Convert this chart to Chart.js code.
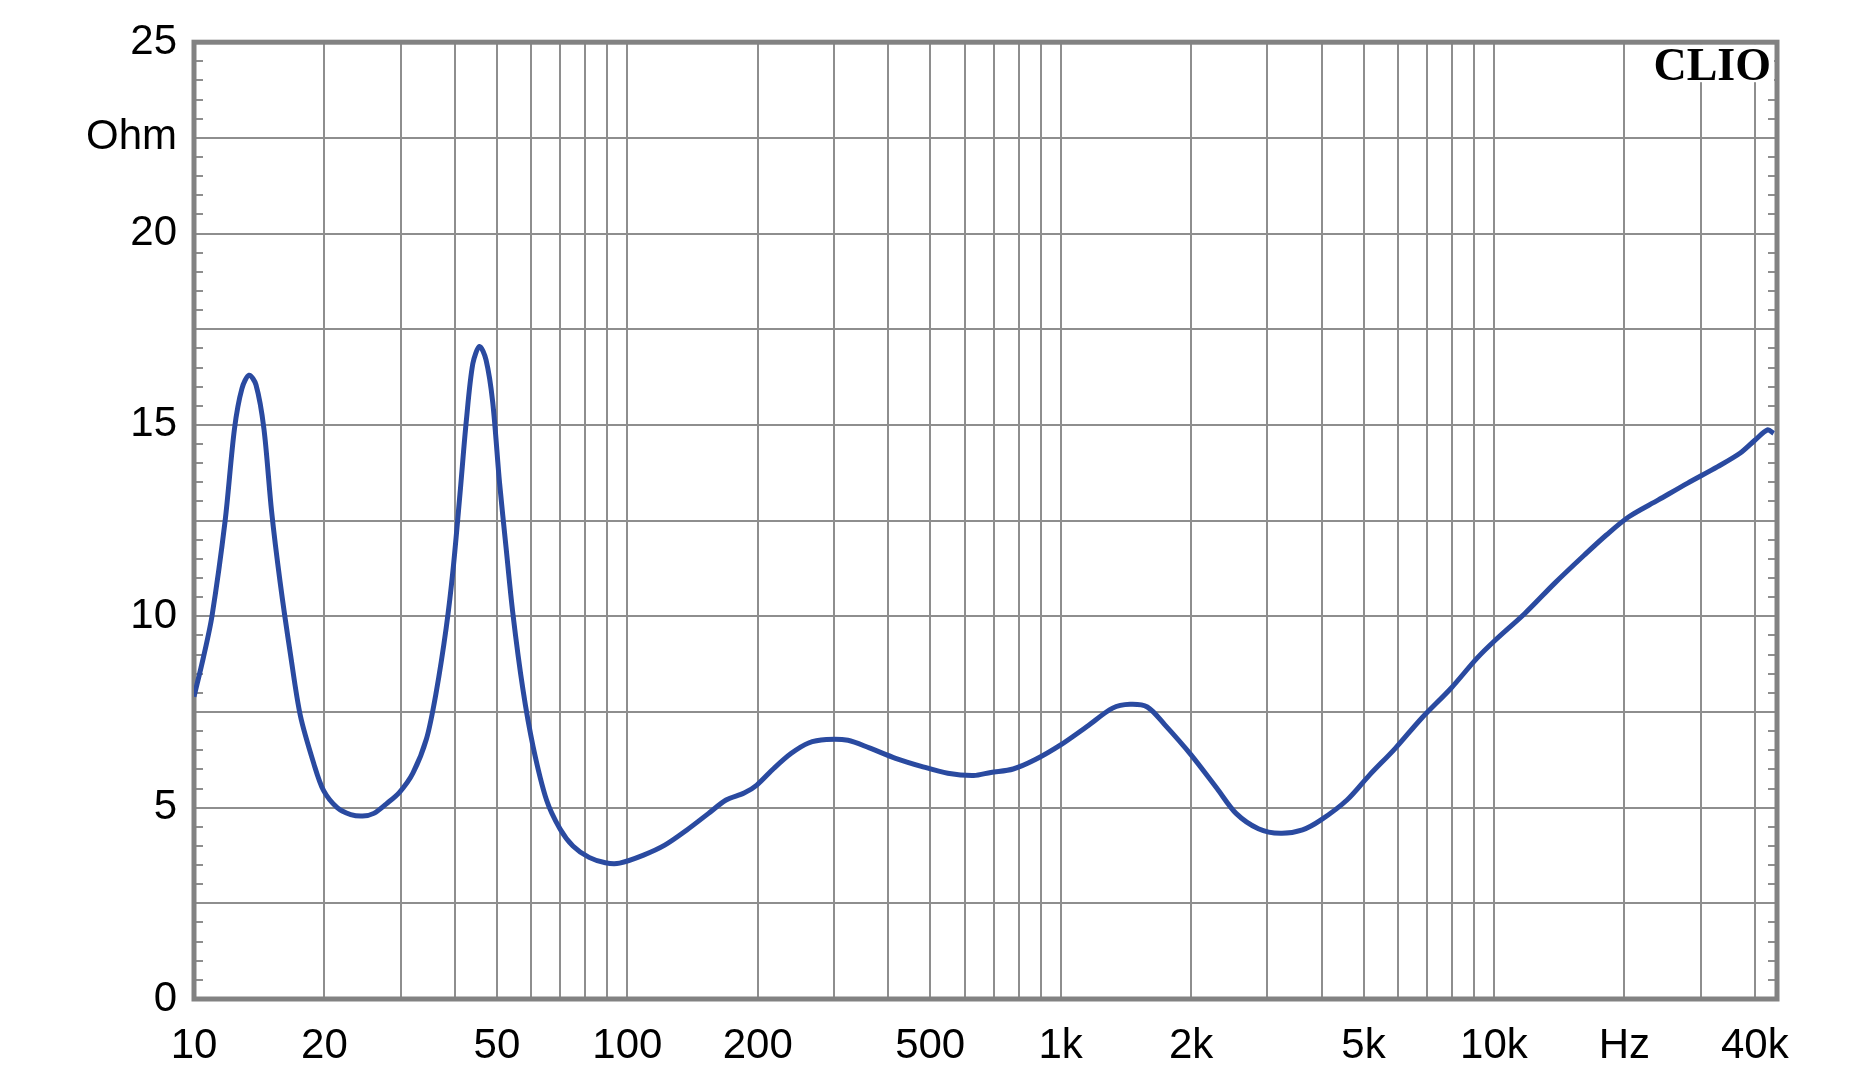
<!DOCTYPE html>
<html>
<head>
<meta charset="utf-8">
<script src="https://cdn.jsdelivr.net/npm/chart.js@4.4.1/dist/chart.umd.min.js"></script>
<style>
  html, body { margin: 0; padding: 0; background: #fff; }
  #wrap { width: 1874px; height: 1080px; position: relative; }
</style>
</head>
<body>
<div id="wrap"><canvas id="grafico"></canvas></div>
<script>
// impedance curve (Hz / Ohm)
var frecuencias = [
  10, 10.5, 11.0, 11.8, 12.4, 12.9, 13.4, 13.9, 14.5, 15.1, 15.8,
  16.7, 17.6, 18.9, 19.9, 21.4, 23.0, 24.5, 26.0, 27.8, 29.8, 32.0,
  34.4, 36.2, 38.2, 39.6, 41.1, 42.5, 44.0, 45.6, 47.2, 48.9,
  50.7, 52.5, 54.4, 57.4, 60.6, 65.1, 69.9, 74.9, 81.6, 89,
  96, 109, 122, 137, 154, 169, 186, 199, 218, 239,
  262, 288, 323, 362, 416, 477, 549, 630, 690, 777,
  872, 1000, 1150, 1318, 1446, 1585, 1738, 2000, 2296, 2540,
  2860, 3216, 3616, 3990, 4580, 5160, 5920, 6800, 7960, 9130,
  10080, 11800, 13800, 16170, 18200, 20480, 23960, 28000, 32840, 36950,
  40000, 42800, 44200
];
var impedancia = [
  7.9, 8.9, 10.0, 12.5, 14.9, 15.95, 16.3, 16.05, 14.9, 12.75, 10.9,
  9.0, 7.4, 6.15, 5.45, 5.0, 4.82, 4.78, 4.85, 5.1, 5.4, 5.9,
  6.8, 8.0, 9.7, 11.2, 13.2, 15.1, 16.6, 17.05, 16.7, 15.6,
  13.5, 11.8, 10.1, 8.1, 6.6, 5.2, 4.45, 4.0, 3.7, 3.56,
  3.55, 3.76, 4.02, 4.41, 4.85, 5.2, 5.38, 5.59, 6.03, 6.42,
  6.69, 6.78, 6.76, 6.56, 6.29, 6.08, 5.9, 5.84, 5.92, 6.01,
  6.25, 6.64, 7.12, 7.6, 7.7, 7.63, 7.17, 6.38, 5.5, 4.85,
  4.45, 4.33, 4.42, 4.68, 5.2, 5.85, 6.55, 7.33, 8.12, 8.9,
  9.38, 10.08, 10.86, 11.6, 12.13, 12.6, 13.04, 13.48, 13.91, 14.26,
  14.6, 14.87, 14.78
];

// x grid lines and their labels
var lineasX = [
  10, 20, 30, 40, 50, 60, 70, 80, 90,
  100, 200, 300, 400, 500, 600, 700, 800, 900,
  1000, 2000, 3000, 4000, 5000, 6000, 7000, 8000, 9000,
  10000, 20000, 30000, 40000
];
var valoresEtiquetaX = [10, 20, 50, 100, 200, 500, 1000, 2000, 5000, 10000, 20000, 40000];
var textosEtiquetaX = ["10", "20", "50", "100", "200", "500", "1k", "2k", "5k", "10k", "Hz", "40k"];

// y grid lines and labels
var lineasY = [0, 2.5, 5, 7.5, 10, 12.5, 15, 17.5, 20, 22.5, 25];
var valoresEtiquetaY = [0, 5, 10, 15, 20, 22.5, 25];
var textosEtiquetaY = ["0", "5", "10", "15", "20", "Ohm", "25"];
var marcasMenoresY = 0.5;

var puntos = frecuencias.map(function (f, i) { return { x: f, y: impedancia[i] }; });

var colorRejilla = '#8e8e8e';
var fuenteEjes = { family: '"Liberation Sans", Arial, sans-serif', size: 42 };

var marco = {
  id: 'marco',
  beforeDatasetsDraw: function (chart) {
    var ctx = chart.ctx;
    var a = chart.chartArea;
    var y = chart.scales.y;
    ctx.save();
    // small ticks on both sides every 0.5 Ohm
    ctx.strokeStyle = colorRejilla;
    ctx.lineWidth = 2;
    for (var v = 0; v <= 25; v += marcasMenoresY) {
      var py = Math.round(y.getPixelForValue(v));
      ctx.beginPath();
      ctx.moveTo(a.left, py); ctx.lineTo(a.left + 9, py);
      ctx.moveTo(a.right, py); ctx.lineTo(a.right - 9, py);
      ctx.stroke();
    }
    // CLIO mark
    ctx.fillStyle = '#fff';
    ctx.fillRect(a.right - 128, a.top + 2, 125, 38);
    ctx.fillStyle = '#000';
    ctx.font = 'bold 46px "Liberation Serif", "Times New Roman", serif';
    ctx.textAlign = 'right';
    ctx.textBaseline = 'alphabetic';
    ctx.fillText('CLIO', a.right - 6, a.top + 38);
    // frame
    ctx.strokeStyle = '#828282';
    ctx.lineWidth = 5;
    ctx.strokeRect(a.left, a.top, a.right - a.left, a.bottom - a.top);
    ctx.restore();
  }
};

new Chart(document.getElementById('grafico'), {
  type: 'line',
  data: {
    datasets: [{
      data: puntos,
      borderColor: '#2a4aa0',
      borderWidth: 5,
      pointRadius: 0,
      fill: false,
      tension: 0.3
    }]
  },
  options: {
    responsive: true,
    maintainAspectRatio: false,
    animation: false,
    layout: { padding: { top: 38, right: 97, left: 0, bottom: 0 } },
    plugins: { legend: { display: false }, tooltip: { enabled: false } },
    scales: {
      x: {
        type: 'logarithmic',
        min: 10,
        max: 45000,
        afterBuildTicks: function (scale) {
          scale.ticks = lineasX.map(function (v) { return { value: v }; });
        },
        afterFit: function (scale) { scale.height = 81; },
        grid: { color: colorRejilla, lineWidth: 2, drawTicks: false },
        border: { display: false },
        ticks: {
          autoSkip: false,
          maxRotation: 0,
          padding: 22,
          color: '#000',
          font: fuenteEjes,
          callback: function (value) {
            var i = valoresEtiquetaX.indexOf(value);
            return i >= 0 ? textosEtiquetaX[i] : '';
          }
        }
      },
      y: {
        min: 0,
        max: 25,
        afterBuildTicks: function (scale) {
          scale.ticks = lineasY.map(function (v) { return { value: v }; });
        },
        afterFit: function (scale) { scale.width = 194; },
        grid: { color: colorRejilla, lineWidth: 2, drawTicks: false },
        border: { display: false },
        ticks: {
          autoSkip: false,
          padding: 17,
          color: '#000',
          font: fuenteEjes,
          callback: function (value) {
            var i = valoresEtiquetaY.indexOf(value);
            return i >= 0 ? textosEtiquetaY[i] : '';
          }
        }
      }
    }
  },
  plugins: [marco]
});
</script>
</body>
</html>
